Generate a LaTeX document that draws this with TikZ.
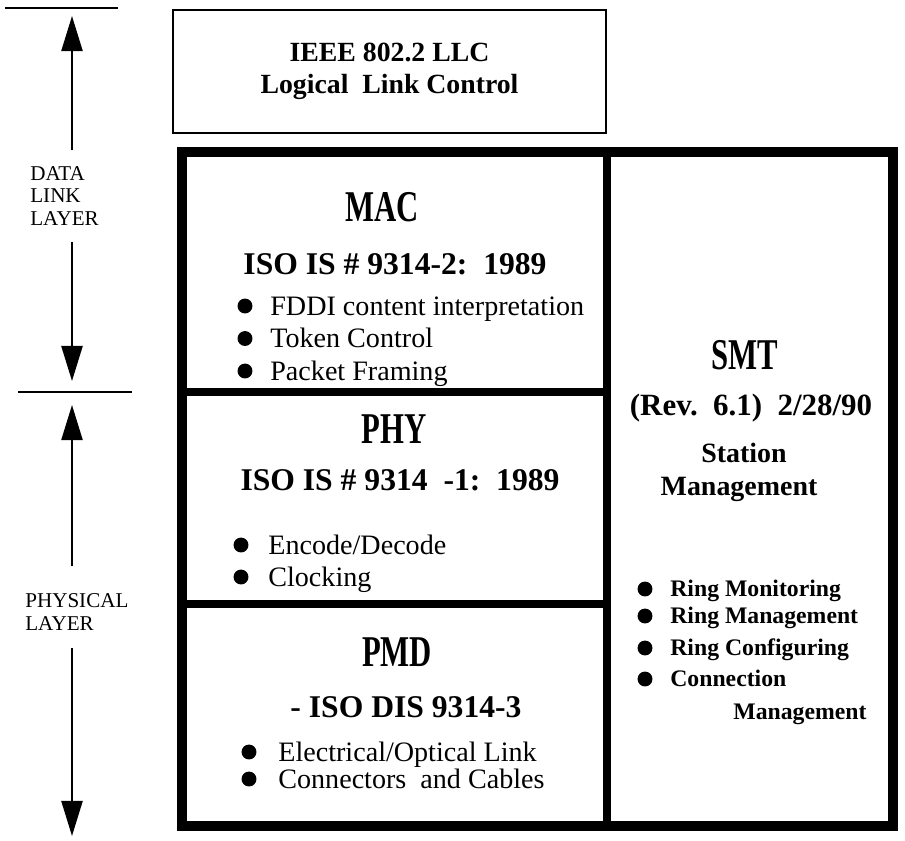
\documentclass[tikz,border=0pt]{standalone}
\usepackage{fontspec}
\setmainfont{Liberation Serif}
\usepackage{graphicx}
\usetikzlibrary{positioning,arrows.meta}

\newcommand{\squeezed}[1]{\scalebox{0.7}[1]{#1}}

\begin{document}
\begin{tikzpicture}[x=0.02cm,y=-0.02cm,>={Triangle[length=20pt,width=12pt]},
  rule/.style={line width=1.3pt},
  heavy/.style={line width=6pt},
  split/.style={line width=5pt},
  ttl/.style={inner sep=0pt,text height=16.5pt,text depth=0pt,font=\fontsize{25pt}{28pt}\selectfont\bfseries},
  iso/.style={inner sep=0pt,text height=11.9pt,text depth=0pt,font=\fontsize{18pt}{20pt}\selectfont\bfseries},
  item/.style={inner sep=0pt,anchor=west,text height=10.5pt,text depth=0pt,font=\fontsize{16pt}{18pt}\selectfont},
  smtitem/.style={inner sep=0pt,anchor=west,text height=8.9pt,text depth=0pt,font=\fontsize{13.5pt}{15pt}\selectfont\bfseries},
  smtsub/.style={inner sep=0pt,text height=10.5pt,text depth=0pt,font=\fontsize{15.9pt}{17pt}\selectfont\bfseries},
  dot/.style={circle,fill,inner sep=0pt,minimum size=8.5pt},
  side/.style={inner sep=0pt,anchor=west,align=left,font=\fontsize{12pt}{13pt}\selectfont}]
  \useasboundingbox (0,0) rectangle (905,840);

  % LLC box on top
  \node[draw,rule,align=center,minimum width=246.6pt,minimum height=69.7pt,
    font=\fontsize{15.8pt}{18pt}\selectfont\bfseries] (llc) at (389.5,71.5)
    {IEEE 802.2 LLC\\Logical\ \ Link Control};

  % frame with its parts
  \draw[heavy] (182,152) rectangle (893,826);
  \coordinate (colT) at (607,152); \coordinate (colB) at (607,826);
  \draw[split] (colT) -- (colB);
  \coordinate (macL) at (182,392); \coordinate (macR) at (607,392);
  \coordinate (phyL) at (182,604); \coordinate (phyR) at (607,604);
  \draw[split] (macL) -- (macR);
  \draw[split] (phyL) -- (phyR);

  % MAC
  \node[ttl] (mac) at (382,207) {\squeezed{MAC}};
  \node[iso] (maciso) at (395,264) {ISO IS \# 9314-2:\ \ 1989};
  \foreach \txt [count=\k] in {FDDI content interpretation, Token Control, Packet Framing} {
    \node[dot] (macdot\k) at (245,{306+32.5*(\k-1)}) {};
    \node[item] (macitem\k) at (270,{306+32.5*(\k-1)}) {\txt};
  }

  % PHY
  \node[ttl] (phy) at (394,429) {\squeezed{PHY}};
  \node[iso] (phyiso) at (400,480) {ISO IS \# 9314\ \ -1:\ \ 1989};
  \foreach \txt [count=\k] in {Encode/Decode, Clocking} {
    \node[dot] (phydot\k) at (241,{545+32*(\k-1)}) {};
    \node[item] (phyitem\k) at (268,{545+32*(\k-1)}) {\txt};
  }

  % PMD
  \node[ttl] (pmd) at (397,652) {\squeezed{PMD}};
  \node[iso] (pmdiso) at (406,707) {- ISO DIS 9314-3};
  \foreach \txt [count=\k] in {Electrical/Optical Link, Connectors\ \ and Cables} {
    \node[dot] (pmddot\k) at (249,{752+27*(\k-1)}) {};
    \node[item] (pmditem\k) at (278,{752+27*(\k-1)}) {\txt};
  }

  % SMT
  \node[ttl] (smt) at (745,355) {\squeezed{SMT}};
  \node[iso,font=\fontsize{17.6pt}{20pt}\selectfont\bfseries] (rev) at (751,405) {(Rev.\ \ 6.1)\ \ 2/28/90};
  \node[smtsub] (station) at (744,453) {Station};
  \node[smtsub] (mgmt) at (739,486) {Management};
  \foreach \txt/\yy [count=\k] in {Ring Monitoring/589, Ring Management/616, Ring Configuring/648, Connection/679} {
    \node[dot] (smtdot\k) at (645,\yy) {};
    \node[smtitem] (smtitem\k) at (670,\yy) {\txt};
  }
  \node[smtitem] (smtitem5) at (733,712) {Management};

  % layer marks on the left
  \coordinate (top0) at (5,8); \coordinate (top1) at (118,8);
  \coordinate (mid0) at (18,392); \coordinate (mid1) at (132,392);
  \draw[rule] (top0) -- (top1);
  \draw[rule] (mid0) -- (mid1);
  \node[side] (dll) at (30,196) {DATA\\LINK\\LAYER};
  \node[side] (phl) at (25,612) {PHYSICAL\\LAYER};
  \coordinate (a1s) at (72,150); \coordinate (a1e) at (72,16);
  \coordinate (a2s) at (72,242); \coordinate (a2e) at (72,381);
  \coordinate (a3s) at (72,566); \coordinate (a3e) at (72,405);
  \coordinate (a4s) at (72,648); \coordinate (a4e) at (72,836);
  \draw[rule,->] (a1s) -- (a1e);
  \draw[rule,->] (a2s) -- (a2e);
  \draw[rule,->] (a3s) -- (a3e);
  \draw[rule,->] (a4s) -- (a4e);
\end{tikzpicture}
\end{document}
